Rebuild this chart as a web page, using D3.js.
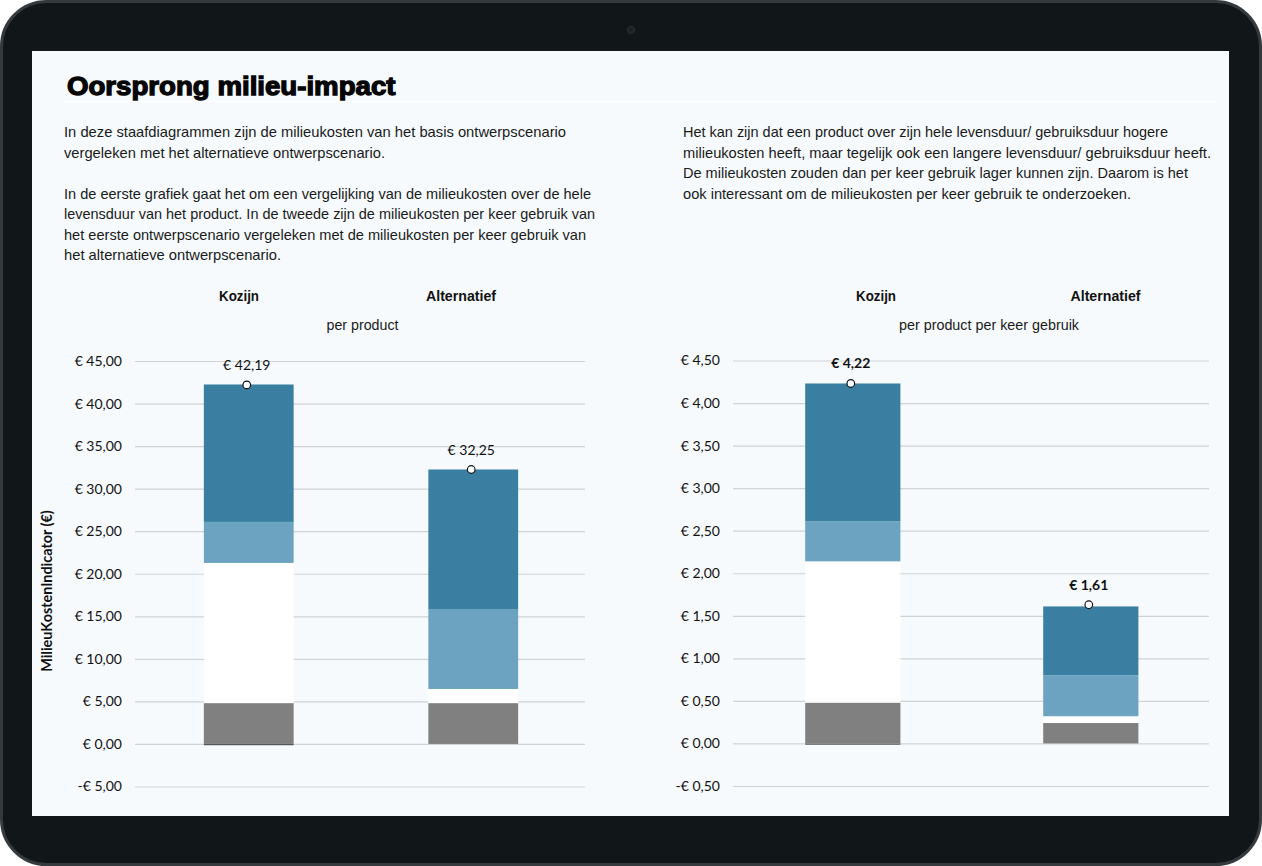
<!DOCTYPE html>
<html>
<head>
<meta charset="utf-8">
<script src="https://cdn.jsdelivr.net/npm/d3@7"></script>
<style>
html, body { margin: 0; padding: 0; background: #fff; }
svg { display: block; }
.body { font-family: "Liberation Sans", sans-serif; font-size: 14.5px; fill: #1a1a1a; }
.head { font-family: "Liberation Sans", sans-serif; font-size: 15px; font-weight: bold; fill: #111; }
.sub { font-family: "Liberation Sans", sans-serif; font-size: 14.5px; fill: #1a1a1a; }
.tick text { font-family: Lato, sans-serif; font-size: 14px; fill: #111; }
.tick line { stroke: #cfd3d6; stroke-width: 1.2; }
.domain { display: none; }
</style>
</head>
<body>
<div id="chart"></div>
<script>
// Oorsprong milieu-impact - two stacked bars side by side

var categories = ["Kozijn", "Alternatief"];
var segments = ["rest", "grijs", "wit", "licht", "donker"];
var segmentColors = ["#555555", "#808080", "#ffffff", "#6ba3c1", "#3a7fa1"];

// left chart: per product
var restLeft = [-0.15, 0];
var grijsLeft = [4.80, 4.80];
var witLeft = [16.47, 1.66];
var lichtLeft = [4.82, 9.40];
var donkerLeft = [16.15, 16.39];
var totalsLeft = [42.19, 32.25];
var totalLabelsLeft = ["€ 42,19", "€ 32,25"];
var ticksLeft = [-5, 0, 5, 10, 15, 20, 25, 30, 35, 40, 45];
var tickLabelsLeft = ["-€ 5,00", "€ 0,00", "€ 5,00", "€ 10,00", "€ 15,00", "€ 20,00", "€ 25,00", "€ 30,00", "€ 35,00", "€ 40,00", "€ 45,00"];

// right chart: per product per keer gebruik
var restRight = [-0.015, 0];
var grijsRight = [0.48, 0.24];
var witRight = [1.66, 0.08];
var lichtRight = [0.47, 0.48];
var donkerRight = [1.62, 0.81];
var totalsRight = [4.23, 1.63];
var totalLabelsRight = ["€ 4,22", "€ 1,61"];
var ticksRight = [-0.5, 0, 0.5, 1, 1.5, 2, 2.5, 3, 3.5, 4, 4.5];
var tickLabelsRight = ["-€ 0,50", "€ 0,00", "€ 0,50", "€ 1,00", "€ 1,50", "€ 2,00", "€ 2,50", "€ 3,00", "€ 3,50", "€ 4,00", "€ 4,50"];

var title = "Oorsprong milieu-impact";
var textLeft = [
  "In deze staafdiagrammen zijn de milieukosten van het basis ontwerpscenario",
  "vergeleken met het alternatieve ontwerpscenario.",
  "",
  "In de eerste grafiek gaat het om een vergelijking van de milieukosten over de hele",
  "levensduur van het product. In de tweede zijn de milieukosten per keer gebruik van",
  "het eerste ontwerpscenario vergeleken met de milieukosten per keer gebruik van",
  "het alternatieve ontwerpscenario."
];
var textRight = [
  "Het kan zijn dat een product over zijn hele levensduur/ gebruiksduur hogere",
  "milieukosten heeft, maar tegelijk ook een langere levensduur/ gebruiksduur heeft.",
  "De milieukosten zouden dan per keer gebruik lager kunnen zijn. Daarom is het",
  "ook interessant om de milieukosten per keer gebruik te onderzoeken."
];

// measured line ends, the original font is narrower than anything installed
var lineEndsLeft = [566, 385, 0, 591, 595, 586, 281];
var lineEndsRight = [1168, 1211, 1188, 1131];

var svgWidth = 1262;
var svgHeight = 866;
var svg = d3.select("#chart").append("svg").attr("width", svgWidth).attr("height", svgHeight);

// tablet frame
svg.append("rect").attr("x", 1.5).attr("y", 1.5).attr("width", 1259).attr("height", 863).attr("rx", 45).attr("fill", "#111719").attr("stroke", "#343a3e").attr("stroke-width", 3);
svg.append("circle").attr("cx", 631).attr("cy", 30).attr("r", 3.5).attr("fill", "#1b2224").attr("stroke", "#2d3436");
svg.append("rect").attr("x", 32).attr("y", 51).attr("width", 1197).attr("height", 765).attr("fill", "#f6fafd");

// heading and intro text
svg.append("text").attr("x", 67).attr("y", 94.5).attr("font-family", "'Liberation Sans', sans-serif").attr("font-weight", "bold").attr("font-size", 26.5).attr("fill", "#050505").attr("stroke", "#050505").attr("stroke-width", 1.3).attr("textLength", 328.5).attr("lengthAdjust", "spacingAndGlyphs").text(title);
svg.append("line").attr("x1", 62).attr("x2", 1216).attr("y1", 101.5).attr("y2", 101.5).attr("stroke", "#ffffff");

function drawLines(lines, ends, x) {
  var y = d3.scaleLinear().domain([0, 1]).range([137, 157.5]);
  lines.forEach(function(line, i) {
    if (!line) return;
    svg.append("text").attr("class", "body").attr("x", x).attr("y", y(i))
      .attr("textLength", ends[i] - x).attr("lengthAdjust", "spacingAndGlyphs").text(line);
  });
}
drawLines(textLeft, lineEndsLeft, 64);
drawLines(textRight, lineEndsRight, 683);

function drawChart(cfg) {
  var rows = categories.map(function(c, i) {
    return {cat: c, rest: cfg.rest[i], grijs: cfg.grijs[i], wit: cfg.wit[i], licht: cfg.licht[i], donker: cfg.donker[i]};
  });
  var stack = d3.stack().keys(segments).offset(d3.stackOffsetDiverging);
  var series = stack(rows);

  var xScale = d3.scaleBand().domain(categories).range(cfg.xRange).paddingInner(0.6).paddingOuter(0.3);
  var yScale = d3.scaleLinear().domain(cfg.yDomain).range(cfg.yRange);

  // gridlines come from the axis
  var leftAxis = d3.axisLeft(yScale).tickValues(cfg.ticks).tickSize(-(cfg.gridRight - cfg.gridLeft)).tickPadding(13)
    .tickFormat(function(d, i) { return cfg.tickLabels[i]; });
  svg.append("g").attr("transform", `translate(${cfg.gridLeft}, 0)`).call(leftAxis);

  svg.append("g").selectAll("g").data(series).enter().append("g")
    .attr("fill", (d, i) => segmentColors[i])
    .selectAll("rect").data(d => d).enter().append("rect")
    .attr("x", d => xScale(d.data.cat))
    .attr("width", xScale.bandwidth())
    .attr("y", d => yScale(d[1]))
    .attr("height", d => yScale(d[0]) - yScale(d[1]));

  // total markers, sit a little left of the bar centre like in the original
  var cx = i => xScale(categories[i]) + xScale.bandwidth() / 2 - 2;
  cfg.totals.forEach(function(t, i) {
    svg.append("circle").attr("cx", cx(i)).attr("cy", yScale(t)).attr("r", 3.8).attr("fill", "#fff").attr("stroke", "#111").attr("stroke-width", 1.2);
    svg.append("text").attr("x", cx(i)).attr("y", yScale(t) - 15).attr("text-anchor", "middle")
      .attr("font-family", "Lato, sans-serif").attr("font-size", 14).attr("font-weight", cfg.boldTotals ? "bold" : "normal").attr("fill", "#111").text(cfg.totalLabels[i]);
  });

  // column headings
  cfg.headX.forEach(function(x, i) {
    svg.append("text").attr("class", "head").attr("x", x - cfg.headW[i] / 2).attr("y", 301)
      .attr("textLength", cfg.headW[i]).attr("lengthAdjust", "spacingAndGlyphs").text(categories[i]);
  });
  svg.append("text").attr("class", "sub").attr("x", cfg.subX - cfg.subW / 2).attr("y", 330)
    .attr("textLength", cfg.subW).attr("lengthAdjust", "spacingAndGlyphs").text(cfg.sub);
}

drawChart({
  rest: restLeft, grijs: grijsLeft, wit: witLeft, licht: lichtLeft, donker: donkerLeft,
  totals: totalsLeft, totalLabels: totalLabelsLeft, ticks: ticksLeft, tickLabels: tickLabelsLeft,
  xRange: [136.5, 585.5], yDomain: [-5, 45], yRange: [786.5, 361], gridLeft: 135, gridRight: 585,
  headX: [239, 461], headW: [40, 70], subX: 362.5, subW: 72, sub: "per product", boldTotals: false
});
drawChart({
  rest: restRight, grijs: grijsRight, wit: witRight, licht: lichtRight, donker: donkerRight,
  totals: totalsRight, totalLabels: totalLabelsRight, ticks: ticksRight, tickLabels: tickLabelsRight,
  xRange: [733.8, 1209.8], yDomain: [-0.5, 4.5], yRange: [786, 360.5], gridLeft: 733, gridRight: 1209,
  headX: [876, 1105.5], headW: [40, 70], subX: 989, subW: 180, sub: "per product per keer gebruik", boldTotals: true
});

// y axis title
svg.append("text").attr("transform", "translate(51.5, 591) rotate(-90)").attr("text-anchor", "middle")
  .attr("font-family", "Lato, sans-serif").attr("font-size", 14.4).attr("font-weight", "bold").attr("fill", "#111").text("MilieuKostenIndicator (€)");
</script>
</body>
</html>
